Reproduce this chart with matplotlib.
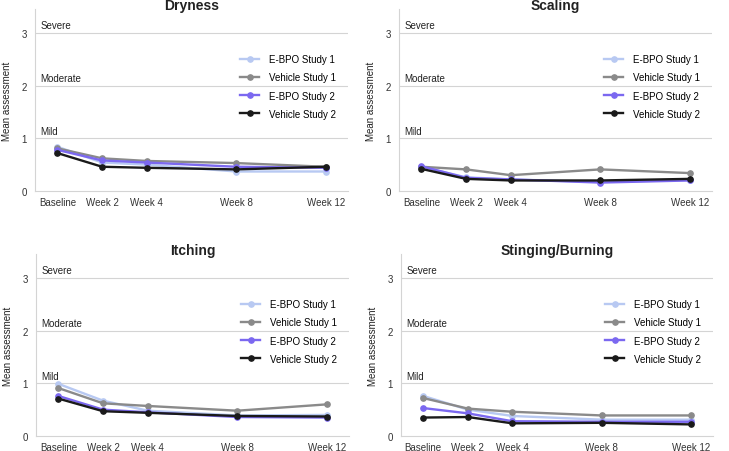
import matplotlib
matplotlib.use("Agg")
import matplotlib.pyplot as plt

plt.rcParams['font.family'] = ['Liberation Sans', 'DejaVu Sans']

weeks = [0, 2, 4, 8, 12]
week_labels = ["Baseline", "Week 2", "Week 4", "Week 8", "Week 12"]
series_names = ["E-BPO Study 1", "Vehicle Study 1", "E-BPO Study 2", "Vehicle Study 2"]
colors = ["#b8c9f2", "#8a8a8a", "#7b68f0", "#1a1a1a"]
panel_titles = ["Dryness", "Scaling", "Itching", "Stinging/Burning"]

dryness = [
    [0.84, 0.54, 0.50, 0.37, 0.37],
    [0.81, 0.62, 0.57, 0.53, 0.46],
    [0.78, 0.58, 0.54, 0.46, 0.44],
    [0.72, 0.46, 0.44, 0.41, 0.46],
]
scaling = [
    [0.46, 0.26, 0.22, 0.17, 0.21],
    [0.46, 0.41, 0.30, 0.41, 0.34],
    [0.47, 0.25, 0.22, 0.16, 0.20],
    [0.42, 0.23, 0.20, 0.20, 0.23],
]
itching = [
    [0.99, 0.67, 0.48, 0.39, 0.40],
    [0.91, 0.62, 0.57, 0.48, 0.60],
    [0.76, 0.50, 0.45, 0.36, 0.35],
    [0.71, 0.47, 0.44, 0.38, 0.37],
]
stinging = [
    [0.76, 0.50, 0.38, 0.31, 0.31],
    [0.72, 0.52, 0.46, 0.39, 0.39],
    [0.53, 0.43, 0.28, 0.27, 0.27],
    [0.35, 0.36, 0.24, 0.25, 0.22],
]
panel_data = [dryness, scaling, itching, stinging]

band_levels = [1, 2, 3]
band_labels = ["Mild", "Moderate", "Severe"]

W, H = 729, 452
fig = plt.figure(figsize=(W / 100, H / 100), dpi=100)

# axes boxes in pixels: left, right, bottom (from top of image)
boxes = [(35, 348, 192), (399, 712, 192), (36, 349, 437), (401, 713, 437)]
ytop = 3.45
unit = 52.7

for (x0, x1, yb), title, data in zip(boxes, panel_titles, panel_data):
    h = ytop * unit
    ax = fig.add_axes([x0 / W, (H - yb) / H, (x1 - x0) / W, h / H])
    for vals, name, c in zip(data, series_names, colors):
        ax.plot(weeks, vals, color=c, lw=1.7, marker="o", ms=3.8, label=name)
    ax.set_xlim(-1, 13)
    ax.set_ylim(0, ytop)
    ax.set_xticks(weeks)
    ax.set_xticklabels(week_labels)
    ax.set_yticks([0, 1, 2, 3])
    ax.tick_params(length=0, labelsize=7, colors="#333333")
    ax.tick_params(axis="y", pad=6)
    ax.tick_params(axis="x", pad=4)
    for lv in band_levels:
        ax.axhline(lv, color="#d4d4d4", lw=0.8, zorder=0)
    for lv, lab in zip(band_levels, band_labels):
        ax.text(-0.75, lv + 0.05, lab, fontsize=7, va="bottom", ha="left", color="#222222")
    for s in ["top", "right"]:
        ax.spines[s].set_visible(False)
    ax.spines["left"].set_color("#d4d4d4")
    ax.spines["bottom"].set_color("#d4d4d4")
    ax.spines["left"].set_linewidth(0.8)
    ax.spines["bottom"].set_linewidth(0.8)
    ax.text(0.5, 1.0, title, transform=ax.transAxes, ha="center", va="baseline",
            fontsize=10, fontweight="bold", color="#222222")
    ax.set_ylabel("Mean assessment", fontsize=7, color="#222222", labelpad=7)
    ax.legend(loc="center", bbox_to_anchor=(0.808, 0.575), frameon=False, fontsize=7,
              handlelength=1.9, handletextpad=1.0, labelspacing=0.85)

fig.savefig("out.png", dpi=100)
